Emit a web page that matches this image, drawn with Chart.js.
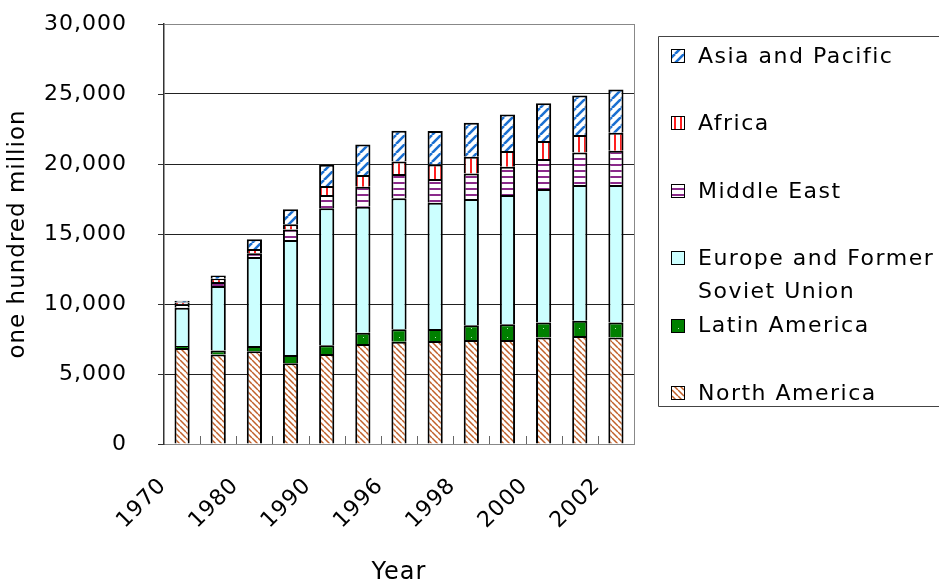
<!DOCTYPE html>
<html>
<head>
<meta charset="utf-8">
<script src="https://cdn.jsdelivr.net/npm/chart.js@4"></script>
<style>
  html, body { margin: 0; padding: 0; background: #fff; }
  #wrap { width: 939px; height: 581px; }
</style>
</head>
<body>
<div id="wrap"><canvas id="c" width="939" height="581"></canvas></div>
<script>
// Years on the category axis and the ones that carry a printed label
const years = ['1970', '1975', '1980', '1985', '1990', '1995', '1996', '1997', '1998', '1999', '2000', '2001', '2002'];
const labeledYears = ['1970', '1980', '1990', '1996', '1998', '2000', '2002'];

// Regional values (one hundred million), stacked bottom to top
const northAmerica   = [6850, 6400, 6630, 5760, 6430, 7140, 7310, 7360, 7430, 7430, 7600, 7710, 7600];
const latinAmerica   = [150, 280, 370, 600, 620, 810, 880, 850, 1050, 1120, 1070, 1100, 1070];
const europeFSU      = [2740, 4610, 6360, 8210, 9790, 9000, 9360, 9020, 9020, 9240, 9550, 9690, 9830];
const middleEast     = [250, 290, 260, 760, 950, 1430, 1740, 1690, 1830, 2020, 2140, 2330, 2450];
const africa         = [120, 230, 300, 360, 640, 830, 880, 1050, 1190, 1120, 1290, 1240, 1290];
const asiaPacific    = [130, 220, 700, 1070, 1520, 2190, 2210, 2380, 2430, 2600, 2690, 2830, 3090];

const seriesNames = ['North America', 'Latin America', 'Europe and Former Soviet Union', 'Middle East', 'Africa', 'Asia and Pacific'];

// Value axis tick values
const yTickValues = [0, 5000, 10000, 15000, 20000, 25000, 30000];

Chart.defaults.font.family = "'DejaVu Sans', sans-serif";
Chart.defaults.color = '#000';

// Small repeating fills for each region
function makePattern(w, h, paint) {
  const c = document.createElement('canvas');
  c.width = w; c.height = h;
  const g = c.getContext('2d');
  paint(g, w, h);
  return g.createPattern(c, 'repeat');
}

const naFill = makePattern(6, 6, (g, w, h) => {
  g.fillStyle = '#fff'; g.fillRect(0, 0, w, h);
  g.strokeStyle = '#C0602A'; g.lineWidth = 1.5;
  g.beginPath();
  for (let k = -1; k <= 1; k++) { g.moveTo(k * w, 0); g.lineTo(k * w + w, h); }
  g.stroke();
});
const laFill = makePattern(9, 9, (g, w, h) => {
  g.fillStyle = '#008000'; g.fillRect(0, 0, w, h);
  g.fillStyle = '#b8e8b8'; g.fillRect(3, 4, 1, 1);
});
const euFill = '#CCFFFF';
const meFill = makePattern(1, 6, (g, w, h) => {
  g.fillStyle = '#fff'; g.fillRect(0, 0, w, h);
  g.fillStyle = '#8B2A8B'; g.fillRect(0, 2, w, 2);
});
const afFill = makePattern(6, 1, (g, w, h) => {
  g.fillStyle = '#fff'; g.fillRect(0, 0, w, h);
  g.fillStyle = '#FF2020'; g.fillRect(2, 0, 2, h);
});
const apFill = makePattern(9, 9, (g, w, h) => {
  g.fillStyle = '#fff'; g.fillRect(0, 0, w, h);
  g.strokeStyle = '#1A6FD1'; g.lineWidth = 2.6;
  g.beginPath();
  for (let k = -1; k <= 1; k++) { g.moveTo(k * w, h); g.lineTo(k * w + w, 0); }
  g.stroke();
});

const seriesValues = [northAmerica, latinAmerica, europeFSU, middleEast, africa, asiaPacific];
const seriesFills = [naFill, laFill, euFill, meFill, afFill, apFill];

// Global text spacing, plot frame, short outer value ticks and inner category ticks
const framePlugin = {
  id: 'frame',
  beforeDraw(chart) {
    chart.ctx.letterSpacing = '1px';
  },
  beforeDatasetsDraw(chart) {
    const { ctx, chartArea: a } = chart;
    const ys = chart.scales.y;
    ctx.save();
    ctx.strokeStyle = '#888';
    ctx.lineWidth = 1;
    ctx.beginPath();
    ctx.moveTo(Math.round(a.right) + 0.5, a.top);
    ctx.lineTo(Math.round(a.right) + 0.5, a.bottom);
    ctx.stroke();
    ctx.strokeStyle = '#333';
    ctx.beginPath();
    yTickValues.forEach(v => {
      const y = Math.round(ys.getPixelForValue(v)) + 0.5;
      ctx.moveTo(a.left - 6, y);
      ctx.lineTo(a.left, y);
    });
    ctx.stroke();
    ctx.restore();
  },
  afterDatasetsDraw(chart) {
    const { ctx, chartArea: a } = chart;
    const xs = chart.scales.x;
    const step = xs.getPixelForValue(1) - xs.getPixelForValue(0);
    ctx.save();
    ctx.strokeStyle = '#666';
    ctx.lineWidth = 1;
    ctx.beginPath();
    for (let i = 1; i < years.length; i++) {
      const x = Math.round(xs.getPixelForValue(i) - step / 2) + 0.5;
      ctx.moveTo(x, a.bottom);
      ctx.lineTo(x, a.bottom - 8);
    }
    ctx.stroke();
    ctx.restore();
  }
};

// Boxed legend on the right (it runs past the right edge), top entry = top of the stack
const sideLegend = {
  id: 'sideLegend',
  afterDraw(chart) {
    const ctx = chart.ctx;
    const boxL = 658.5, boxT = 36.5, boxB = 406.5, boxR = 1100;
    ctx.save();
    ctx.strokeStyle = '#444';
    ctx.lineWidth = 1;
    ctx.beginPath();
    ctx.moveTo(boxR, boxT);
    ctx.lineTo(boxL, boxT);
    ctx.lineTo(boxL, boxB);
    ctx.lineTo(boxR, boxB);
    ctx.stroke();
    ctx.font = "22px 'DejaVu Sans'";
    ctx.letterSpacing = '1.5px';
    ctx.textBaseline = 'middle';
    ctx.fillStyle = '#000';
    const ds = chart.data.datasets.slice().reverse();
    const slot = 67.4, firstY = 56, textX = 698, maxW = 238;
    ds.forEach((d, i) => {
      const cy = firstY + i * slot;
      const sx = 671, sy = Math.round(cy - 7);
      ctx.fillStyle = d.backgroundColor;
      ctx.fillRect(sx, sy, 14, 14);
      ctx.strokeStyle = '#000';
      ctx.strokeRect(sx + 0.5, sy + 0.5, 13, 13);
      // wrap the label into lines that fit the box
      const words = d.label.split(' ');
      const lines = [];
      let cur = '';
      words.forEach(w => {
        const t = cur ? cur + ' ' + w : w;
        if (ctx.measureText(t).width > maxW && cur) { lines.push(cur); cur = w; } else { cur = t; }
      });
      lines.push(cur);
      ctx.fillStyle = '#000';
      lines.forEach((ln, j) => ctx.fillText(ln, textX, cy + 1 + j * 33));
    });
    ctx.restore();
  }
};

new Chart(document.getElementById('c'), {
  type: 'bar',
  data: {
    labels: years,
    datasets: seriesNames.map((name, i) => ({
      label: name,
      data: seriesValues[i],
      backgroundColor: seriesFills[i],
      borderColor: '#000',
      borderWidth: 2,
      barPercentage: 0.42,
      categoryPercentage: 1
    }))
  },
  options: {
    responsive: false,
    animation: false,
    layout: { padding: { top: 24, right: 305, left: 0, bottom: 0 } },
    plugins: {
      legend: { display: false },
      tooltip: { enabled: false }
    },
    scales: {
      x: {
        stacked: true,
        grid: { display: true, drawOnChartArea: false, drawTicks: true, tickLength: 29, tickColor: 'rgba(0,0,0,0)' },
        border: { color: '#888', width: 1 },
        ticks: {
          autoSkip: false,
          maxRotation: 45,
          minRotation: 45,
          padding: 0,
          labelOffset: -19,
          font: { size: 22 },
          color: '#000',
          callback: (v, i) => (labeledYears.includes(years[i]) ? years[i] : '')
        },
        title: { display: true, text: 'Year', font: { size: 24, lineHeight: 1 }, color: '#000', padding: { top: 0, bottom: -4 } },
        afterFit: s => { s.height = 137; }
      },
      y: {
        stacked: true,
        min: 0,
        max: 30000,
        afterBuildTicks: s => { s.ticks = yTickValues.map(v => ({ value: v })); },
        ticks: {
          padding: 4,
          font: { size: 22 },
          color: '#000',
          callback: v => v.toLocaleString('en-US')
        },
        grid: {
          color: c => (c.tick && c.tick.value === 30000 ? '#888' : '#222'),
          tickColor: 'rgba(0,0,0,0)',
          tickLength: 33
        },
        border: { color: '#333', width: 1.5 },
        title: { display: true, text: 'one hundred million', font: { size: 23 }, color: '#000', padding: { top: 4, bottom: 0 } },
        afterFit: s => { s.width = 164; }
      }
    }
  },
  plugins: [framePlugin, sideLegend]
});
</script>
</body>
</html>
